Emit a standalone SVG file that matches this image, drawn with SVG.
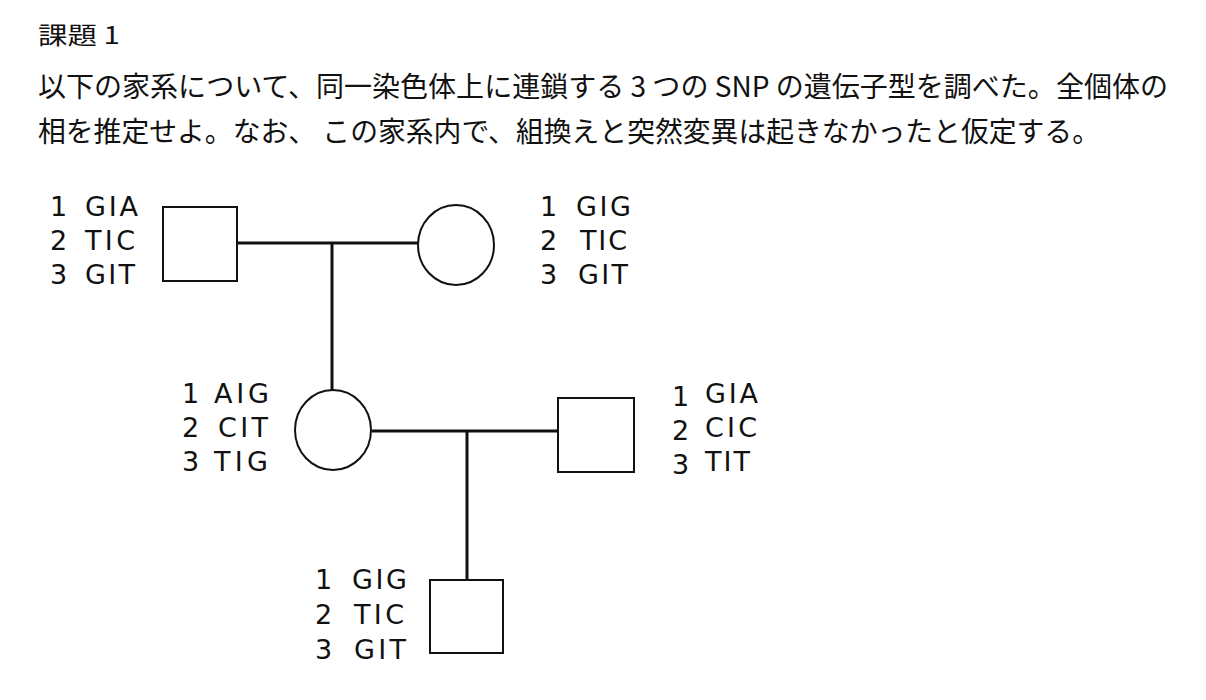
<svg xmlns="http://www.w3.org/2000/svg" width="1206" height="700" viewBox="0 0 1206 700">
<style>
.jp{font-family:"Noto Sans CJK JP","Noto Sans",sans-serif;fill:#111}
.lb{font-family:"DejaVu Sans",sans-serif;font-size:27px;fill:#111}
.nd{fill:#fff;stroke:#111;stroke-width:2}
.ln{stroke:#111;stroke-width:3;fill:none}
</style>
<rect width="1206" height="700" fill="#fff"/>
<text class="jp" x="38" y="44" font-size="24" textLength="82" lengthAdjust="spacingAndGlyphs">課題 1</text>
<text class="jp" x="38" y="97" font-size="28" textLength="1130" lengthAdjust="spacingAndGlyphs">以下の家系について、同一染色体上に連鎖する 3 つの SNP の遺伝子型を調べた。全個体の</text>
<text class="jp" x="38" y="142" font-size="28" textLength="1062" lengthAdjust="spacingAndGlyphs">相を推定せよ。なお、 この家系内で、組換えと突然変異は起きなかったと仮定する。</text>
<g id="connectors">
<path class="ln" d="M237 243H418"/>
<path class="ln" d="M332 243V392"/>
<path class="ln" d="M372 431H557"/>
<path class="ln" d="M467 431V580"/>
</g>
<g id="father">
<rect class="nd" x="163" y="207" width="74" height="74"/>
<text class="lb" x="50" y="216">1</text><text class="lb" x="85" y="216" textLength="53">GIA</text>
<text class="lb" x="50" y="250">2</text><text class="lb" x="85" y="250" textLength="50">TIC</text>
<text class="lb" x="50" y="284">3</text><text class="lb" x="85" y="284" textLength="50">GIT</text>
</g>
<g id="mother">
<ellipse class="nd" cx="456" cy="245" rx="38" ry="40"/>
<text class="lb" x="540" y="216">1</text><text class="lb" x="576" y="216" textLength="55">GIG</text>
<text class="lb" x="540" y="250">2</text><text class="lb" x="580" y="250" textLength="47">TIC</text>
<text class="lb" x="540" y="284">3</text><text class="lb" x="578" y="284" textLength="50">GIT</text>
</g>
<g id="daughter">
<ellipse class="nd" cx="333" cy="430" rx="38" ry="40"/>
<text class="lb" x="182" y="403">1</text><text class="lb" x="214" y="403" textLength="55">AIG</text>
<text class="lb" x="182" y="437">2</text><text class="lb" x="218" y="437" textLength="50">CIT</text>
<text class="lb" x="182" y="471">3</text><text class="lb" x="214" y="471" textLength="54">TIG</text>
</g>
<g id="husband">
<rect class="nd" x="558" y="398" width="76" height="74"/>
<text class="lb" x="672" y="406">1</text><text class="lb" x="705" y="403" textLength="53">GIA</text>
<text class="lb" x="672" y="440">2</text><text class="lb" x="705" y="437" textLength="52">CIC</text>
<text class="lb" x="672" y="474">3</text><text class="lb" x="705" y="471" textLength="45">TIT</text>
</g>
<g id="child">
<rect class="nd" x="430" y="580" width="73" height="73"/>
<text class="lb" x="315" y="589">1</text><text class="lb" x="352" y="589" textLength="55">GIG</text>
<text class="lb" x="315" y="624">2</text><text class="lb" x="354" y="624" textLength="50">TIC</text>
<text class="lb" x="315" y="659">3</text><text class="lb" x="354" y="659" textLength="52">GIT</text>
</g>
</svg>
